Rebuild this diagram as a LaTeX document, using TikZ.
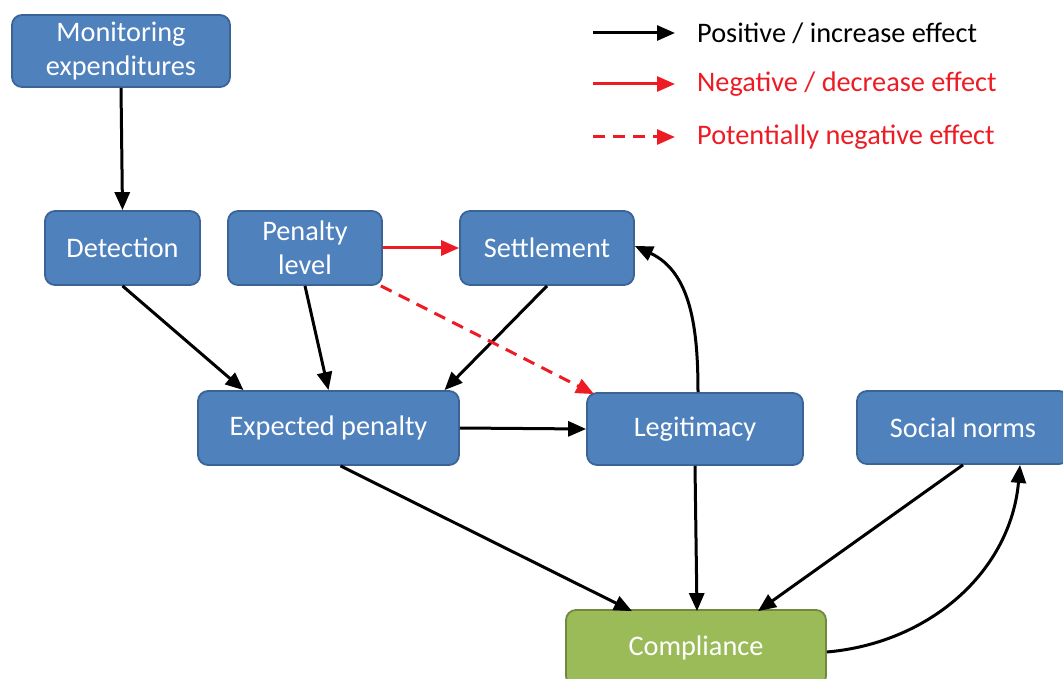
\documentclass[tikz,border=0pt]{standalone}
\usepackage{fontspec}
\setmainfont{Carlito}
\usetikzlibrary{arrows.meta}
\definecolor{boxblue}{HTML}{4F81BD}
\definecolor{boxblueline}{HTML}{3A6496}
\definecolor{boxgreen}{HTML}{9BBB59}
\definecolor{boxgreenline}{HTML}{71893F}
\definecolor{negred}{RGB}{237,28,36}
\tikzset{
  bbox/.style={draw=boxblueline, fill=boxblue, line width=1.8pt, rounded corners=10pt,
    text=white, font=\fontsize{28.3}{34.5}\selectfont, align=center, inner sep=0pt},
  gbox/.style={bbox, draw=boxgreenline, fill=boxgreen},
  posarrow/.style={draw=black, line width=3pt, -{Triangle[length=18pt,width=15pt]}},
  negarrow/.style={draw=negred, line width=3pt, -{Triangle[length=18pt,width=15pt,fill=negred]}},
  negdash/.style={negarrow, dash pattern=on 12pt off 8pt},
  legtext/.style={anchor=west, font=\fontsize{28.3}{31}\selectfont, inner sep=0pt}
}
\begin{document}
\begin{tikzpicture}[x=1pt,y=-1pt]
\useasboundingbox (0,0) rectangle (1063,679);
\clip (0,0) rectangle (1063,679);
% nodes
\node[bbox, minimum width=218pt, minimum height=72pt] (mon) at (121,51) {Monitoring\\expenditures};
\node[bbox, minimum width=155pt, minimum height=74pt] (det) at (122.5,248) {Detection};
\node[bbox, minimum width=154pt, minimum height=74pt] (pen) at (305,248) {Penalty\\level};
\node[bbox, minimum width=174pt, minimum height=74pt] (set) at (547,248) {Settlement};
\node[bbox, minimum width=261pt, minimum height=74pt] (exp) at (328.5,428) {Expected penalty};
\node[bbox, minimum width=216pt, minimum height=72pt] (leg) at (695,429) {Legitimacy};
\node[bbox, minimum width=212pt, minimum height=73pt] (soc) at (963,427.5) {Social norms};
\node[gbox, minimum width=260pt, minimum height=76pt] (comp) at (696,648) {Compliance};
% connectors
\draw[posarrow] (mon.south) -- (det.north);
\draw[posarrow] (det.south) -- ([xshift=-85pt]exp.north);
\draw[posarrow] (pen.south) -- ([xshift=0pt]exp.north);
\draw[posarrow] (set.south) -- ([xshift=116pt]exp.north);
\draw[negarrow] (pen.east) -- (set.west);
\draw[negdash] ([xshift=-2pt]pen.south east) -- ([xshift=8pt,yshift=-2pt]leg.north west);
\draw[posarrow] (exp.east) -- (leg.west);
\draw[posarrow] ([xshift=3pt]leg.north) to[out=90,in=-25] ([yshift=2pt]set.east);
\draw[posarrow] ([xshift=12pt]exp.south) -- ([xshift=-64pt,yshift=-2pt]comp.north);
\draw[posarrow] (leg.south) -- ([xshift=1pt,yshift=-2pt]comp.north);
\draw[posarrow] (soc.south) -- ([xshift=62pt,yshift=-2pt]comp.north);
\draw[posarrow] ([yshift=-4pt]comp.east) to[out=5,in=-95] ([xshift=57pt]soc.south);
% legend
\coordinate (l1a) at (593,33); \coordinate (l1b) at (675,33);
\coordinate (l2a) at (593,84); \coordinate (l2b) at (675,84);
\coordinate (l3a) at (593,137); \coordinate (l3b) at (675,137);
\draw[posarrow] (l1a) -- (l1b);
\draw[negarrow] (l2a) -- (l2b);
\draw[negdash] (l3a) -- (l3b);
\node[legtext] (t1) at (697,33) {Positive / increase effect};
\node[legtext, text=negred] (t2) at (697,84) {Negative / decrease effect};
\node[legtext, text=negred] (t3) at (697,137) {Potentially negative effect};
\end{tikzpicture}
\end{document}
